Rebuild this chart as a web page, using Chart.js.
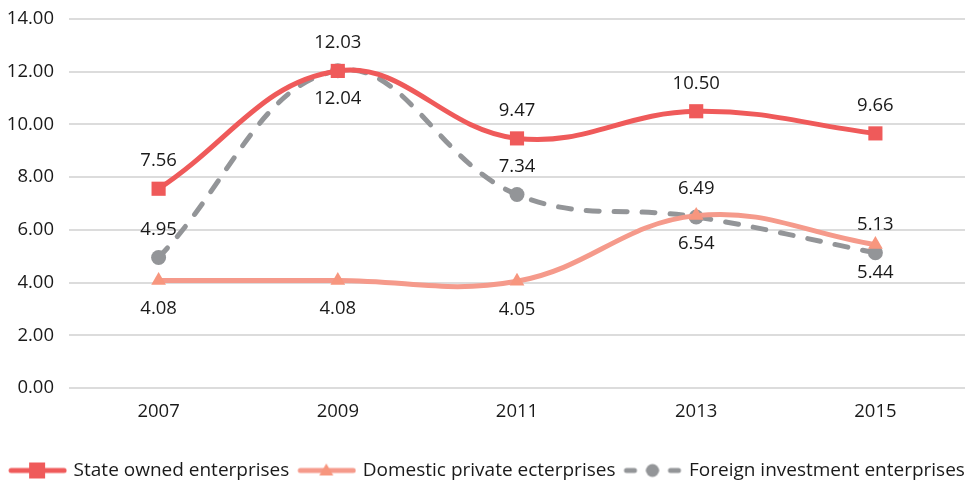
<!DOCTYPE html>
<html>
<head>
<meta charset="utf-8">
<script src="https://cdn.jsdelivr.net/npm/chart.js@4.4.1/dist/chart.umd.min.js"></script>
<style>
  html, body { margin: 0; padding: 0; background: #fff; }
  #wrap { width: 975px; height: 483px; position: relative; }
</style>
</head>
<body>
<div id="wrap"><canvas id="chart"></canvas></div>
<script>
// ---- data ----
const years = ['2007', '2009', '2011', '2013', '2015'];
const stateOwned = [7.56, 12.03, 9.47, 10.50, 9.66];
const domesticPrivate = [4.08, 4.08, 4.05, 6.54, 5.44];
const foreignInvest = [4.95, 12.04, 7.34, 6.49, 5.13];
const seriesNames = ['State owned enterprises', 'Domestic private ecterprises', 'Foreign investment enterprises'];

const FONT = '"Open Sans", "Noto Sans", sans-serif';
const RED = '#ef5a5a';
const SALMON = '#f59a8b';
const GREY = '#939598';
const TEXT = '#1a1a1a';

// little line+marker images for the legend (Excel style)
function legendIcon(color, marker, dashed) {
  const c = document.createElement('canvas');
  c.width = 60; c.height = 20;
  const g = c.getContext('2d');
  g.strokeStyle = color;
  g.lineWidth = 5;
  g.lineCap = 'round';
  if (dashed) g.setLineDash([8, 14]);
  g.beginPath();
  g.moveTo(4, 10);
  g.lineTo(57, 10);
  g.stroke();
  g.setLineDash([]);
  g.fillStyle = marker === 'tri' ? '#f7967e' : color;
  g.beginPath();
  if (marker === 'rect') {
    g.rect(22, 2, 16, 16);
  } else if (marker === 'tri') {
    g.moveTo(30, 3); g.lineTo(37, 15); g.lineTo(23, 15); g.closePath();
  } else {
    g.arc(30, 10, 6.5, 0, Math.PI * 2);
  }
  g.fill();
  return c;
}

// value labels drawn next to each point
const pointLabels = {
  id: 'pointLabels',
  afterDatasetsDraw(chart) {
    const ctx = chart.ctx;
    ctx.save();
    ctx.font = '18.5px ' + FONT;
    ctx.fillStyle = TEXT;
    ctx.textAlign = 'center';
    ctx.textBaseline = 'middle';
    chart.data.datasets.forEach((ds, i) => {
      const meta = chart.getDatasetMeta(i);
      meta.data.forEach((pt, j) => {
        const below = ds.labelSide[j] === 'below';
        ctx.fillText(ds.data[j].toFixed(2), pt.x, pt.y + (below ? 28 : -28));
      });
    });
    ctx.restore();
  }
};

const icons = [legendIcon(RED, 'rect', false), legendIcon(SALMON, 'tri', false), legendIcon(GREY, 'circle', true)];

new Chart(document.getElementById('chart'), {
  type: 'line',
  data: {
    labels: years,
    datasets: [
      {
        label: seriesNames[0],
        data: stateOwned,
        borderColor: RED,
        backgroundColor: RED,
        borderWidth: 5,
        pointStyle: 'rect',
        pointRadius: 10,
        pointBorderWidth: 0,
        labelSide: ['above', 'above', 'above', 'above', 'above']
      },
      {
        label: seriesNames[1],
        data: domesticPrivate,
        borderColor: SALMON,
        backgroundColor: '#f7967e',
        borderWidth: 5,
        pointStyle: 'triangle',
        pointRadius: 8.5,
        pointBorderWidth: 0,
        labelSide: ['below', 'below', 'below', 'below', 'below']
      },
      {
        label: seriesNames[2],
        data: foreignInvest,
        borderColor: GREY,
        backgroundColor: GREY,
        borderWidth: 5,
        borderDash: [13, 15],
        borderCapStyle: 'round',
        pointStyle: 'circle',
        pointRadius: 7.5,
        pointBorderWidth: 0,
        labelSide: ['above', 'below', 'above', 'above', 'above']
      }
    ]
  },
  options: {
    responsive: true,
    maintainAspectRatio: false,
    animation: false,
    layout: { padding: { top: 19, right: 0, bottom: -7, left: 0 } },
    elements: { line: { tension: 0.4 } },
    scales: {
      x: {
        offset: true,
        grid: { display: false },
        border: { display: false },
        ticks: { color: TEXT, font: { family: FONT, size: 18.5 }, padding: 5 },
        afterFit: s => { s.height = 63; }
      },
      y: {
        min: 0,
        max: 14,
        ticks: {
          stepSize: 2,
          color: TEXT,
          padding: 15,
          font: { family: FONT, size: 18.5 },
          callback: v => v.toFixed(2)
        },
        grid: { color: '#dcdcdc', lineWidth: 2, drawTicks: false },
        border: { display: false },
        afterFit: s => {
          s.width = 69;
          s.paddingTop = 0;
          s.paddingBottom = 0;
        }
      }
    },
    plugins: {
      tooltip: { enabled: false },
      legend: {
        position: 'bottom',
        labels: {
          color: TEXT,
          font: { family: FONT, size: 19 },
          usePointStyle: true,
          pointStyleWidth: 54,
          padding: 10,
          generateLabels: chart => chart.data.datasets.map((ds, i) => ({
            text: ds.label,
            pointStyle: icons[i],
            fontColor: TEXT,
            datasetIndex: i,
            lineWidth: 0,
            strokeStyle: 'transparent',
            fillStyle: 'transparent'
          }))
        }
      }
    }
  },
  plugins: [pointLabels]
});
</script>
</body>
</html>
